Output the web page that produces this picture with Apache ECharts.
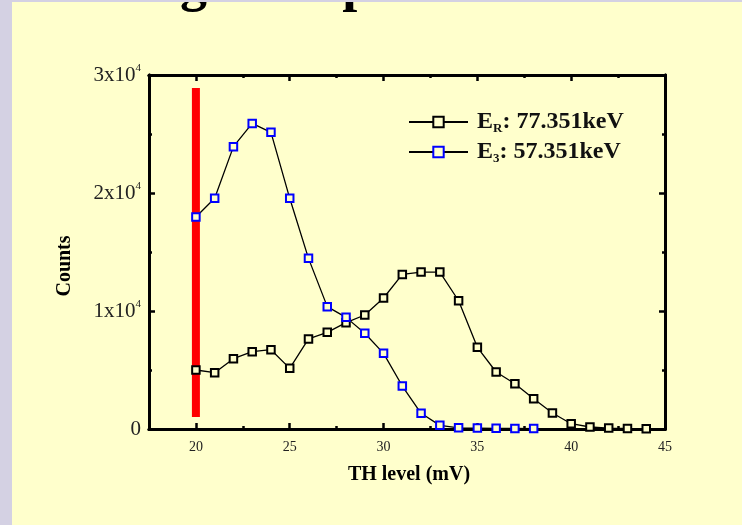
<!DOCTYPE html>
<html>
<head>
<meta charset="utf-8">
<script src="https://cdn.jsdelivr.net/npm/echarts@6/dist/echarts.min.js"></script>
<style>
html,body{margin:0;padding:0;background:#d4d1e3;}
#chart{width:742px;height:525px;}
</style>
</head>
<body>
<div id="chart"></div>
<script>
// ---- data ----
var thLevelsER = [20,21,22,23,24,25,26,27,28,29,30,31,32,33,34,35,36,37,38,39,40,41,42,43,44];
var countsER   = [5000,4770,5960,6550,6720,5140,7630,8190,9010,9660,11100,13100,13300,13300,10870,6920,4830,3840,2570,1360,450,170,80,50,30];
var thLevelsE3 = [20,21,22,23,24,25,26,27,28,29,30,31,32,33,34,35,36,37,38];
var countsE3   = [17970,19550,23930,25900,25140,19550,14460,10370,9460,8110,6410,3640,1330,310,100,80,60,50,40];
var redBarX = 20;
var redBarY = [28900, 1020];
var xMajorTicks = [20,25,30,35,40,45];
var xMinorTicks = [22.5,27.5,32.5,37.5,42.5];
var yMajorTicks = [0,10000,20000,30000];
var yMinorTicks = [5000,15000,25000];
var seriesNames = ['E_R: 77.351keV','E_3: 57.351keV'];
var titleText = 'Timing and spectra';

var FONT = '"Liberation Serif", "Times New Roman", serif';
var chart = echarts.init(document.getElementById('chart'), null, {renderer:'canvas'});

function pairs(xs, ys){ return ys.map(function(v,i){ return [xs[i], v]; }); }

var axisLineStyle = {color:'#000', width:3};
function xAxisDef(pos, ticks, len, labels){
  return {
    type:'value', min:17.5, max:45, position:pos, gridIndex:0,
    axisLine:{show:true, onZero:false, lineStyle:axisLineStyle},
    axisTick:{show:true, inside:true, length:len, lineStyle:{color:'#000', width:2.5}, customValues:ticks},
    axisLabel: labels ? {show:true, customValues:xMajorTicks, fontFamily:FONT, fontSize:14, color:'#222', margin:11} : {show:false},
    splitLine:{show:false}
  };
}
function yAxisDef(pos, ticks, len, labels){
  return {
    type:'value', min:0, max:30000, position:pos, gridIndex:0,
    axisLine:{show:true, onZero:false, lineStyle:axisLineStyle},
    axisTick:{show:true, inside:true, length:len, lineStyle:{color:'#000', width:2.5}, customValues:ticks},
    axisLabel: labels ? {
      show:true, customValues:yMajorTicks, margin:8,
      formatter:function(v){ if(v===0) return '{b|0}'; return '{b|'+(v/10000)+'x10}{s|4}'; },
      rich:{
        b:{fontFamily:FONT, fontSize:21, color:'#222'},
        s:{fontFamily:FONT, fontSize:11, color:'#222', padding:[0,0,14,0]}
      }
    } : {show:false},
    splitLine:{show:false}
  };
}

var option = {
  backgroundColor:'#d4d1e3',
  animation:false,
  graphic:[
    {type:'rect', shape:{x:12,y:2,width:742,height:525}, style:{fill:'#ffffcc'}, z:-10, silent:true},
    {type:'text', x:40, y:-41, z:-5, style:{text:titleText, font:'bold 54px '+FONT, fill:'#000'}},
    {type:'rect', shape:{x:0,y:0,width:742,height:2}, style:{fill:'#d4d1e3'}, z:-4, silent:true},
    {type:'text', x:65, y:266, rotation:Math.PI/2, style:{text:'Counts', font:'bold 20px '+FONT, fill:'#000', align:'center', verticalAlign:'middle'}},
    {type:'text', x:409, y:475, style:{text:'TH level (mV)', font:'bold 20px '+FONT, fill:'#000', align:'center', verticalAlign:'middle'}}
  ],
  grid:{left:149, top:75, width:516, height:354, containLabel:false},
  xAxis:[
    xAxisDef('bottom', xMajorTicks, 6, true),
    xAxisDef('bottom', xMinorTicks, 3, false),
    xAxisDef('top', xMajorTicks, 6, false),
    xAxisDef('top', xMinorTicks, 3, false)
  ],
  yAxis:[
    yAxisDef('left', yMajorTicks, 6, true),
    yAxisDef('left', yMinorTicks, 3, false),
    yAxisDef('right', yMajorTicks, 6, false),
    yAxisDef('right', yMinorTicks, 3, false)
  ],
  legend:{
    orient:'vertical', left:408, top:110, padding:0,
    itemWidth:59, itemHeight:13, itemGap:5,
    data:seriesNames,
    formatter:function(name){
      var m = name.match(/^E_(\w): (.*)$/);
      return '{t|E}{sub|'+m[1]+'}{t|: '+m[2]+'}';
    },
    textStyle:{
      padding:[0,0,0,4],
      rich:{
        t:{fontFamily:FONT, fontSize:24, fontWeight:'bold', color:'#111'},
        sub:{fontFamily:FONT, fontSize:13, fontWeight:'bold', color:'#111', padding:[13,0,0,0]}
      }
    }
  },
  series:[
    {
      name:'red bar', type:'line', xAxisIndex:0, yAxisIndex:0,
      data:[[redBarX, redBarY[0]],[redBarX, redBarY[1]]],
      symbol:'none', lineStyle:{color:'#ff0000', width:8, cap:'butt'}, z:4, silent:true
    },
    {
      name:seriesNames[0], type:'line', xAxisIndex:0, yAxisIndex:0,
      data:pairs(thLevelsER, countsER),
      symbol:'rect', symbolSize:7.5,
      lineStyle:{color:'#000', width:1.3},
      itemStyle:{color:'#ffffcc', borderColor:'#000', borderWidth:2},
      z:5
    },
    {
      name:seriesNames[1], type:'line', xAxisIndex:0, yAxisIndex:0,
      data:pairs(thLevelsE3, countsE3),
      symbol:'rect', symbolSize:7.5,
      lineStyle:{color:'#000', width:1.3},
      itemStyle:{color:'#ffffcc', borderColor:'#0000ff', borderWidth:2},
      z:5
    }
  ]
};
chart.setOption(option);
</script>
</body>
</html>
